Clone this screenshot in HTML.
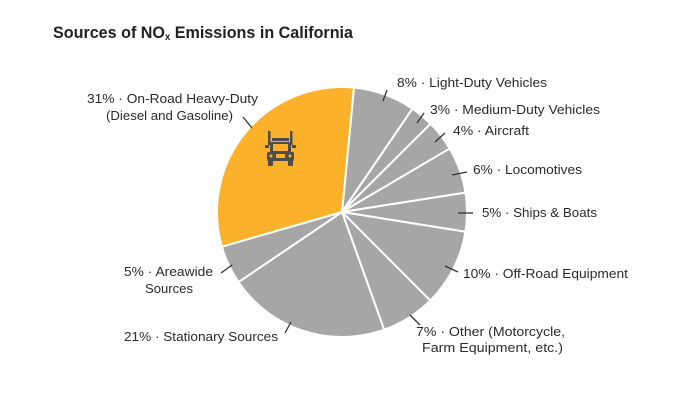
<!DOCTYPE html>
<html><head><meta charset="utf-8"><style>
html,body{margin:0;padding:0;background:#fff;width:684px;height:400px;overflow:hidden}
svg text{font-family:"Liberation Sans",sans-serif;fill:#2b2b2b;font-size:13px}
</style></head><body>
<svg id="s" width="684" height="400" viewBox="0 0 684 400" xmlns="http://www.w3.org/2000/svg">
<text x="53" y="38" style="font-size:17px;font-weight:bold;fill:#222" textLength="300" lengthAdjust="spacingAndGlyphs">Sources of NO<tspan style="font-size:10px" dy="2">x</tspan><tspan dy="-2"> Emissions in California</tspan></text>
<g id="pie"></g>
<g stroke="#333" stroke-width="1.3">
<line x1="387" y1="90" x2="383" y2="101"/>
<line x1="424" y1="113" x2="417" y2="123"/>
<line x1="445" y1="133" x2="435" y2="142"/>
<line x1="467" y1="172" x2="452" y2="175"/>
<line x1="473" y1="213" x2="458" y2="213"/>
<line x1="458" y1="272" x2="445" y2="266"/>
<line x1="420" y1="325" x2="410" y2="315"/>
<line x1="285" y1="333" x2="291" y2="322"/>
<line x1="221" y1="273" x2="232" y2="265"/>
<line x1="243" y1="117" x2="252" y2="128"/>
</g>
<text x="397" y="87" textLength="150" lengthAdjust="spacingAndGlyphs">8% · Light-Duty Vehicles</text>
<text x="430" y="114" textLength="170" lengthAdjust="spacingAndGlyphs">3% · Medium-Duty Vehicles</text>
<text x="453" y="135" textLength="76" lengthAdjust="spacingAndGlyphs">4% · Aircraft</text>
<text x="473" y="174" textLength="109" lengthAdjust="spacingAndGlyphs">6% · Locomotives</text>
<text x="482" y="217" textLength="115" lengthAdjust="spacingAndGlyphs">5% · Ships &amp; Boats</text>
<text x="463" y="278" textLength="165" lengthAdjust="spacingAndGlyphs">10% · Off-Road Equipment</text>
<text x="416" y="336" textLength="149" lengthAdjust="spacingAndGlyphs">7% · Other (Motorcycle,</text>
<text x="422" y="352" textLength="141" lengthAdjust="spacingAndGlyphs">Farm Equipment, etc.)</text>
<text x="124" y="341" textLength="154" lengthAdjust="spacingAndGlyphs">21% · Stationary Sources</text>
<text x="124" y="276" textLength="89" lengthAdjust="spacingAndGlyphs">5% · Areawide</text>
<text x="145" y="293" textLength="48" lengthAdjust="spacingAndGlyphs">Sources</text>
<text x="87" y="103" textLength="171" lengthAdjust="spacingAndGlyphs">31% · On-Road Heavy-Duty</text>
<text x="106" y="120" textLength="127" lengthAdjust="spacingAndGlyphs">(Diesel and Gasoline)</text>
<g fill="#4d4d4d">
<rect x="268" y="131" width="2.5" height="14"/>
<rect x="290" y="131" width="2.5" height="14"/>
<rect x="272" y="138" width="17" height="3"/>
<rect x="270" y="142" width="21" height="12" rx="1"/>
<rect x="265" y="145" width="4" height="3"/>
<rect x="292" y="145" width="4" height="3"/>
<rect x="267" y="152" width="27" height="9" rx="1.5"/>
<rect x="268" y="160" width="5" height="6" rx="1"/>
<rect x="288" y="160" width="5" height="6" rx="1"/>
</g>
<g fill="#fbb129"><rect x="273" y="144" width="15" height="7"/><circle cx="271" cy="156" r="1.5"/><circle cx="290" cy="156" r="1.5"/><rect x="276" y="154" width="9" height="4"/></g>
</svg>
<script>
var cx=342,cy=212,r=125,data=[[8,'#a6a6a6'],[3,'#a6a6a6'],[4,'#a6a6a6'],[6,'#a6a6a6'],[5,'#a6a6a6'],[10,'#a6a6a6'],[7,'#a6a6a6'],[21,'#a6a6a6'],[5,'#a6a6a6'],[31,'#fbb129']];
var a=5.5,h='';
function pt(d){var t=d*Math.PI/180;return (cx+r*Math.sin(t)).toFixed(2)+','+(cy-r*Math.cos(t)).toFixed(2);}
data.forEach(function(s){var b=a+s[0]*3.6;h+='<path d="M'+cx+','+cy+' L'+pt(a)+' A'+r+','+r+' 0 '+(b-a>180?1:0)+' 1 '+pt(b)+' Z" fill="'+s[1]+'" stroke="#fff" stroke-width="2" stroke-linejoin="round"/>';a=b;});
document.getElementById('pie').innerHTML=h;
</script>
</body></html>
